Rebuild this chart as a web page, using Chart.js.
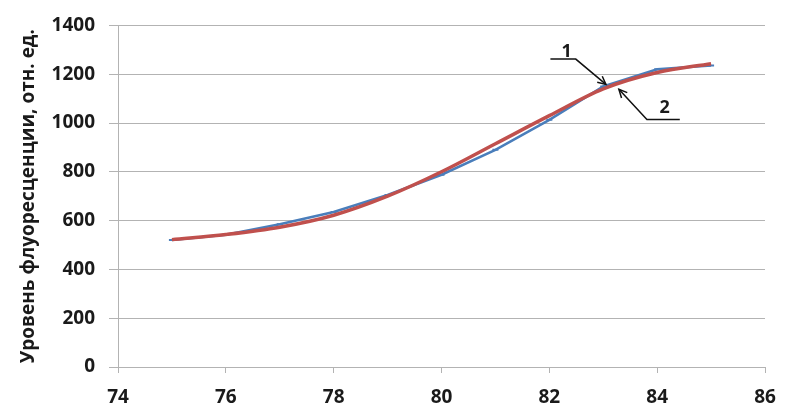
<!DOCTYPE html>
<html>
<head>
<meta charset="utf-8">
<script src="https://cdn.jsdelivr.net/npm/chart.js@4/dist/chart.umd.min.js"></script>
<style>
  html, body { margin: 0; padding: 0; background: #ffffff; }
  #wrap { width: 792px; height: 409px; }
</style>
</head>
<body>
<div id="wrap"><canvas id="c" width="792" height="409"></canvas></div>
<script>
// Temperature (x) values
const temperatures = [75, 76, 77, 78, 79, 80, 81, 82, 83, 84, 85];
// Series 1 (blue, piecewise)
const series1 = [520, 542, 585, 635, 705, 788, 890, 1013, 1150, 1220, 1236];
// Series 2 (red, smooth)
const series2 = [522, 543, 573, 622, 700, 800, 915, 1030, 1140, 1207, 1243];
// Tick labels
const xTicks = [74, 76, 78, 80, 82, 84, 86];
const yTicks = [0, 200, 400, 600, 800, 1000, 1200, 1400];
const yTitle = 'Уровень флуоресценции, отн. ед.';
// Callout labels: [label, textX, textY, startX, startY, elbowX, elbowY, tipX, tipY] in data units
const callout1 = ['1', 82.32, 1290, 82.02, 1262, 82.49, 1262, 83.05, 1158];
const callout2 = ['2', 84.14, 1060, 84.42, 1014, 83.81, 1014, 83.29, 1138];

const FONT = "'Open Sans', 'DejaVu Sans', sans-serif";
const TEXT = '#1a1a1a';
const GRID = '#b3b3b3';

const calloutPlugin = {
  id: 'callouts',
  afterDatasetsDraw(chart) {
    const { ctx, scales: { x, y } } = chart;
    ctx.save();
    [callout1, callout2].forEach(c => {
      const [lab, tx, ty, ax, ay, bx, by, px, py] = c;
      const X = v => x.getPixelForValue(v), Y = v => y.getPixelForValue(v);
      ctx.strokeStyle = '#111';
      ctx.lineWidth = 1.5;
      ctx.beginPath();
      ctx.moveTo(X(ax), Y(ay));
      ctx.lineTo(X(bx), Y(by));
      ctx.lineTo(X(px), Y(py));
      ctx.stroke();
      const ang = Math.atan2(Y(py) - Y(by), X(px) - X(bx));
      const L = 9, W = 0.45;
      ctx.beginPath();
      ctx.moveTo(X(px) - L * Math.cos(ang - W), Y(py) - L * Math.sin(ang - W));
      ctx.lineTo(X(px), Y(py));
      ctx.lineTo(X(px) - L * Math.cos(ang + W), Y(py) - L * Math.sin(ang + W));
      ctx.stroke();
      ctx.fillStyle = TEXT;
      ctx.font = "bold 18px " + FONT;
      ctx.textAlign = 'center';
      ctx.textBaseline = 'middle';
      ctx.fillText(lab, X(tx), Y(ty));
    });
    ctx.restore();
  }
};

new Chart(document.getElementById('c'), {
  type: 'line',
  data: {
    datasets: [
      {
        label: '2',
        data: temperatures.map((t, i) => ({ x: t, y: series2[i] })),
        borderColor: '#c0504d',
        borderWidth: 3.5,
        pointRadius: 0,
        cubicInterpolationMode: 'monotone',
        order: 0
      },
      {
        label: '1',
        data: temperatures.map((t, i) => ({ x: t, y: series1[i] })),
        borderColor: '#4a7ebb',
        borderWidth: 2.5,
        pointStyle: 'line',
        pointRadius: 3,
        pointBorderWidth: 2,
        pointBorderColor: '#4a7ebb',
        tension: 0,
        order: 1
      }
    ]
  },
  options: {
    responsive: false,
    animation: false,
    devicePixelRatio: 1,
    layout: { padding: { left: 0, right: 27, top: 20, bottom: 0 } },
    plugins: { legend: { display: false }, tooltip: { enabled: false } },
    scales: {
      x: {
        type: 'linear',
        min: xTicks[0],
        max: xTicks[xTicks.length - 1],
        afterBuildTicks: s => { s.ticks = xTicks.map(v => ({ value: v })); },
        afterFit: s => { s.height = 42; },
        grid: { drawOnChartArea: false, drawTicks: true, tickLength: 6, color: GRID, lineWidth: 1 },
        border: { color: GRID, width: 1 },
        ticks: { color: TEXT, font: { family: FONT, size: 19, weight: 'bold' }, padding: 13, maxRotation: 0,
                 callback: v => String(v) }
      },
      y: {
        type: 'linear',
        min: yTicks[0],
        max: yTicks[yTicks.length - 1],
        afterBuildTicks: s => { s.ticks = yTicks.map(v => ({ value: v })); },
        afterFit: s => { s.width = 118; },
        grid: { drawOnChartArea: true, drawTicks: true, tickLength: 9, color: GRID, lineWidth: 1 },
        border: { color: GRID, width: 1 },
        ticks: { color: TEXT, font: { family: FONT, size: 19, weight: 'bold' }, padding: 14,
                 callback: v => String(v) },
        title: {
          display: true,
          text: yTitle,
          color: TEXT,
          font: { family: FONT, size: 19, weight: 'bold' },
          padding: { top: 17, bottom: 0 }
        }
      }
    }
  },
  plugins: [calloutPlugin]
});
</script>
</body>
</html>
